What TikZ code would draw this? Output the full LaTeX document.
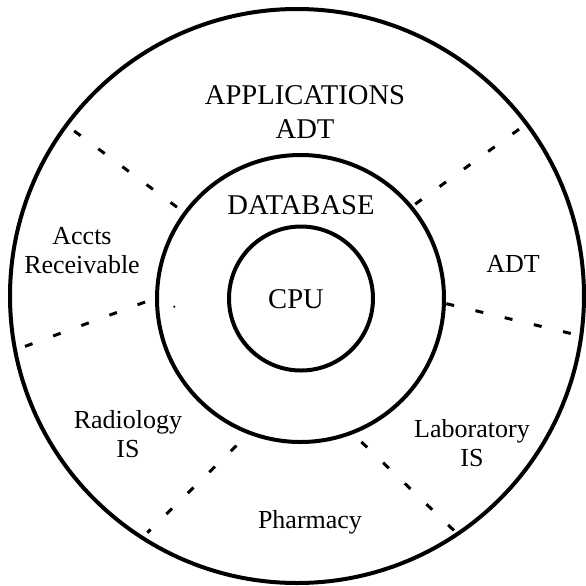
\documentclass[tikz,border=0pt]{standalone}
\usepackage{fontspec}
\setmainfont{Liberation Serif}
\usetikzlibrary{calc}

\tikzset{
    ring/.style={line width=2pt},
    divider/.style={line width=1.5pt, dash pattern=on 4pt off 11pt, shorten <=-2pt, shorten >=-2pt},
    bigtext/.style={font=\fontsize{14.3}{16.75}\selectfont, align=center, inner sep=0pt},
    smalltext/.style={font=\fontsize{13}{14.5}\selectfont, align=center, inner sep=0pt}
}

\begin{document}
\begin{tikzpicture}[x=0.5pt, y=-0.5pt]
    \useasboundingbox (0,0) rectangle (586,586);

    \draw[ring] (297,296) circle (287);
    \draw[ring] (300.5,298.5) circle (143.5);
    \draw[ring] (301,298.5) circle (72);
    \fill (174.3,306.7) circle (1.2);

    % sector dividers, inner end first
    \draw[divider] (173.8,204.8) -- (76.6,132.7);
    \draw[divider] (418.5,201.8) -- (516.8,130.8);
    \draw[divider] (141.3,303.4) -- (26.9,345.7);
    \draw[divider] (450.2,304.6) -- (571.7,333.7);
    \draw[divider] (233.6,448.4) -- (150.2,529.9);
    \draw[divider] (364.3,444.7) -- (452.2,528.8);

    \node[bigtext] (apps) at (305,112) {APPLICATIONS\\ADT};
    \node[bigtext, anchor=base] (db) at (301,214) {DATABASE};
    \node[bigtext, anchor=base] (cpu) at (296,308.3) {CPU};
    \node[smalltext] (accts) at (82,251) {Accts\\Receivable};
    \node[smalltext, anchor=base] (adt) at (513,272.7) {ADT};
    \node[smalltext] (radio) at (128,434.4) {Radiology\\IS};
    \node[smalltext] (lab) at (472,442.8) {Laboratory\\IS};
    \node[smalltext, anchor=base] (pharm) at (310,528.3) {Pharmacy};

\end{tikzpicture}
\end{document}
